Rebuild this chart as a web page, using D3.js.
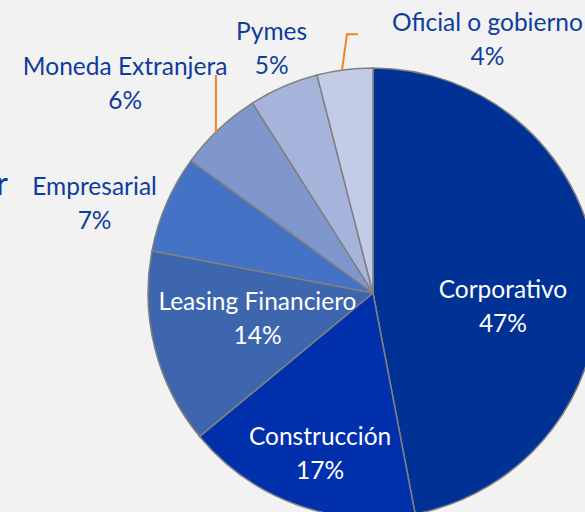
<!DOCTYPE html>
<html lang="es">
<head>
  <meta charset="UTF-8">
  <title>Cartera por segmento</title>
  <script src="https://d3js.org/d3.v7.min.js"></script>
</head>
<style>
  body { margin: 0; background: #f2f2f2; }
  svg { display: block; }
  text {
    font-family: Lato, "Open Sans", sans-serif;
    font-size: 24.5px;
  }
  .slice { stroke: #808080; stroke-width: 1.5px; }
  .leader { fill: none; stroke: #f58220; stroke-width: 2px; }
</style>
<body>

<div id="pieChart"></div>

<script>
// segmentos en el orden de las agujas del reloj, desde las 12
var segments = ["Corporativo", "Construcción", "Leasing Financiero", "Empresarial",
                "Moneda Extranjera", "Pymes", "Oficial o gobierno"];
var shares = [47, 17, 14, 7, 6, 5, 4];
var colours = ["#003296", "#0030ab", "#3d66ae", "#4472c4", "#7f97cd", "#a6b4dc", "#c3cce7"];

var width = 585;
var height = 512;
var cx = 373, cy = 293, radius = 225;

var svg = d3.select("#pieChart")
    .append("svg")
    .attr("width", width)
    .attr("height", height);

svg.append("rect")
    .attr("width", width)
    .attr("height", height)
    .attr("fill", "#f2f2f2");

var g = svg.append("g")
    .attr("transform", "translate(" + cx + "," + cy + ")");

var data = segments.map(function(s, i) {
  return { name: s, value: shares[i], colour: colours[i], idx: i };
});

var pie = d3.pie()
    .sort(null)
    .value(function(d) { return d.value; });

var arc = d3.arc().innerRadius(0).outerRadius(radius);

var arcs = pie(data);

g.selectAll(".slice")
    .data(arcs)
    .enter()
    .append("path")
    .attr("class", "slice")
    .attr("d", arc)
    .attr("fill", function(d) { return d.data.colour; });

// label placement: radius as fraction of pie radius, plus small nudges
var labelRad = [0.58, 0.76, 0.53, 1.3, 1.22, 1.09, 1.12];
var labelNudge = [[0, 25], [5, -1], [0, -5], [-10, 26], [-60, -10], [-4, -20], [146, -4]];
var inside = [true, true, true, false, false, false, false];

function labelPos(d) {
  var i = d.data.idx;
  var a = (d.startAngle + d.endAngle) / 2;
  var r = radius * labelRad[i];
  return [r * Math.sin(a) + labelNudge[i][0], -r * Math.cos(a) + labelNudge[i][1]];
}

var labels = g.selectAll(".label")
    .data(arcs)
    .enter()
    .append("text")
    .attr("class", "label")
    .attr("text-anchor", "middle")
    .attr("fill", function(d) { return inside[d.data.idx] ? "#ffffff" : "#0f3c9c"; })
    .attr("transform", function(d) {
      var p = labelPos(d);
      return "translate(" + p[0] + "," + p[1] + ")";
    });

labels.append("tspan")
    .attr("x", 0)
    .attr("y", -8)
    .text(function(d) { return d.data.name; });

labels.append("tspan")
    .attr("x", 0)
    .attr("y", 26)
    .text(function(d) { return d.data.value + "%"; });

// leader lines for the two small slices whose labels sit away from them
function edgePoint(d, frac) {
  var a = d.startAngle + (d.endAngle - d.startAngle) * frac;
  return [radius * Math.sin(a), -radius * Math.cos(a)];
}

var moneda = arcs[4];
var pm = edgePoint(moneda, 0.45);
g.append("path")
    .attr("class", "leader")
    .attr("d", "M" + pm[0] + "," + pm[1] + "V" + (pm[1] - 57));

var oficial = arcs[6];
var po = edgePoint(oficial, 0.45);
g.append("path")
    .attr("class", "leader")
    .attr("d", "M" + po[0] + "," + po[1] + "L" + (po[0] + 5) + "," + (po[1] - 36) + "h11");

// fragmento de texto recortado en el borde izquierdo
svg.append("text")
    .attr("x", 8)
    .attr("y", 195)
    .attr("text-anchor", "end")
    .attr("fill", "#0f3c9c")
    .style("font-size", "32px")
    .text("r");
</script>

</body>
</html>
